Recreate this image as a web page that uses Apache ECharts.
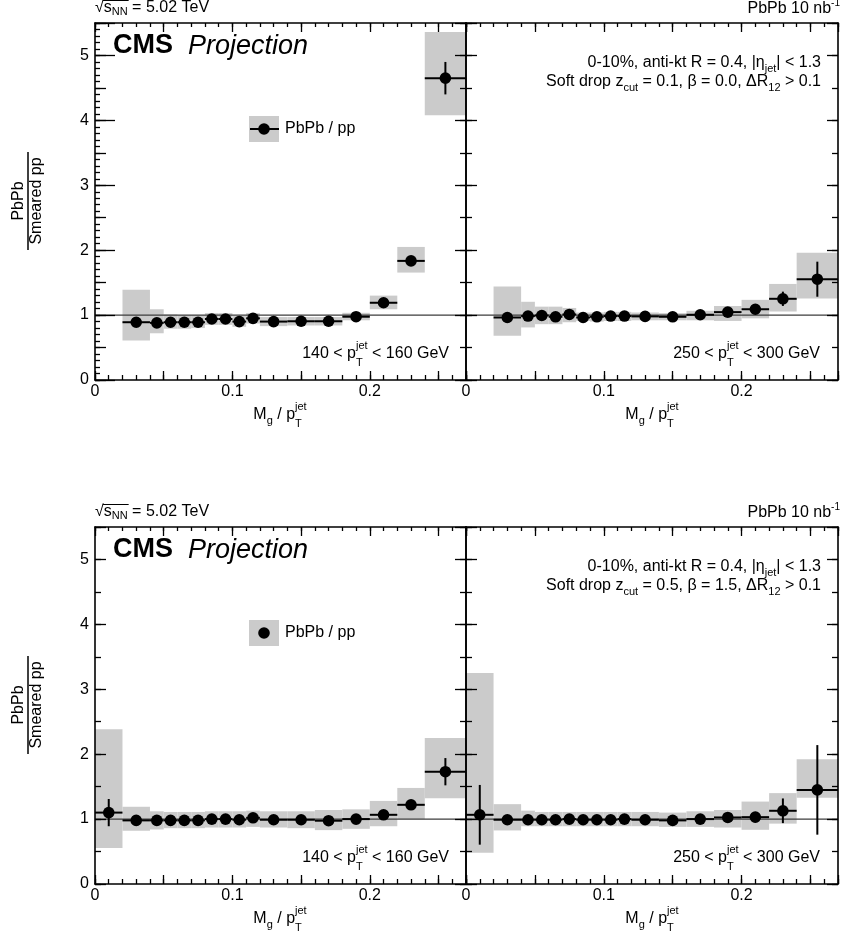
<!DOCTYPE html>
<html><head><meta charset="utf-8">
<script src="https://cdn.jsdelivr.net/npm/echarts@6/dist/echarts.min.js"></script>
<style>html,body{margin:0;padding:0;background:#fff}#c{width:841px;height:943px}</style>
</head><body><div id="c"></div>
<script>
// ---------------- data ----------------
const binEdgesTop    = [0.02,0.04,0.05,0.06,0.07,0.08,0.09,0.10,0.11,0.12,0.14,0.16,0.18,0.20,0.22,0.24,0.27];
const binEdgesBottom = [0.00,0.02,0.04,0.05,0.06,0.07,0.08,0.09,0.10,0.11,0.12,0.14,0.16,0.18,0.20,0.22,0.24,0.27];

// top-left: zcut 0.1, beta 0.0, 140 < pT < 160
const ratioTL = [0.89,0.88,0.89,0.89,0.89,0.94,0.94,0.90,0.95,0.90,0.905,0.905,0.975,1.19,1.835,4.65];
const statTL  = [0.03,0.02,0.02,0.02,0.02,0.02,0.02,0.02,0.02,0.02,0.02,0.03,0.03,0.05,0.07,0.25];
const sysLoTL = [0.61,0.72,0.79,0.79,0.80,0.85,0.85,0.82,0.87,0.83,0.84,0.84,0.92,1.09,1.655,4.08];
const sysHiTL = [1.39,1.09,1.01,1.00,1.00,1.03,1.03,0.99,1.03,0.97,0.97,0.97,1.035,1.30,2.05,5.36];

// top-right: zcut 0.1, beta 0.0, 250 < pT < 300
const ratioTR = [0.963,0.985,0.994,0.974,1.01,0.963,0.974,0.985,0.985,0.98,0.974,1.005,1.046,1.09,1.251,1.553];
const statTR  = [0.03,0.02,0.02,0.02,0.02,0.02,0.02,0.02,0.02,0.02,0.02,0.03,0.04,0.05,0.11,0.27];
const sysLoTR = [0.68,0.81,0.86,0.86,0.89,0.91,0.90,0.91,0.91,0.92,0.92,0.92,0.91,0.95,1.055,1.255];
const sysHiTR = [1.44,1.205,1.13,1.13,1.11,1.04,1.04,1.05,1.05,1.04,1.03,1.066,1.14,1.235,1.48,1.96];

// bottom-left: zcut 0.5, beta 1.5, 140 < pT < 160
const ratioBL = [1.10,0.98,0.98,0.98,0.98,0.98,1.00,1.00,0.99,1.02,0.99,0.99,0.975,1.00,1.066,1.22,1.73];
const statBL  = [0.21,0.02,0.02,0.02,0.02,0.02,0.02,0.02,0.02,0.02,0.02,0.02,0.02,0.03,0.04,0.06,0.21];
const sysLoBL = [0.554,0.82,0.84,0.86,0.86,0.86,0.87,0.87,0.87,0.88,0.87,0.86,0.83,0.85,0.89,1.00,1.32];
const sysHiBL = [2.385,1.19,1.12,1.11,1.11,1.11,1.12,1.12,1.12,1.13,1.12,1.12,1.14,1.15,1.28,1.48,2.25];

// bottom-right: zcut 0.5, beta 1.5, 250 < pT < 300
const ratioBR = [1.066,0.99,0.99,0.99,0.99,1.00,0.99,0.99,0.99,1.00,0.99,0.98,1.00,1.025,1.03,1.128,1.45];
const statBR  = [0.46,0.02,0.02,0.02,0.02,0.02,0.02,0.02,0.02,0.02,0.02,0.03,0.03,0.04,0.08,0.19,0.69];
const sysLoBR = [0.48,0.825,0.89,0.89,0.89,0.89,0.89,0.89,0.89,0.89,0.89,0.88,0.88,0.87,0.835,0.93,1.33];
const sysHiBR = [3.25,1.23,1.13,1.11,1.11,1.11,1.11,1.11,1.11,1.11,1.11,1.10,1.12,1.14,1.27,1.40,1.92];

const xTickLabels = ['0','0.1','0.2'];
const yTickLabels = ['0','1','2','3','4','5'];
const referenceValue = 1;
const X_MIN = 0, X_MAX = 0.27, Y_MIN = 0, Y_MAX = 5.5;

// ---------------- helpers ----------------
const FF = '"Liberation Sans", Arial, Helvetica, sans-serif';
const ctx = document.createElement('canvas').getContext('2d');
function tw(t, size, weight, style){ ctx.font = `${style||'normal'} ${weight||'normal'} ${size}px "Liberation Sans"`; return ctx.measureText(t).width; }
function T(text, x, y, size, o){
  o = o || {};
  return {type:'text', x, y, z:100, silent:true, rotation:o.rotation||0,
    style:{text, fill:'#000', fontSize:size, fontFamily:FF, fontWeight:o.weight||'normal', fontStyle:o.style||'normal',
      textAlign:o.align||'left', textVerticalAlign:'middle'}};
}
function rich(parts, x, y, align){
  const ms = parts.map(p => p.stack ? Math.max(tw(p.stack[0],p.size), tw(p.stack[1],p.size)) : tw(p.t,p.size,p.weight,p.style));
  const total = ms.reduce((a,b)=>a+b,0);
  const start = align==='right' ? x-total : align==='center' ? x-total/2 : x;
  let cx = start;
  const els = [];
  parts.forEach((p,i)=>{
    if (p.stack){ els.push(T(p.stack[0],cx,y+p.dy[0],p.size)); els.push(T(p.stack[1],cx,y+p.dy[1],p.size)); }
    else els.push(T(p.t,cx,y+(p.dy||0),p.size,p));
    cx += ms[i];
  });
  return {els, start, widths: ms};
}
function near(v, step){ return Math.abs(v/step - Math.round(v/step)) < 1e-6; }

const xAxis=[], yAxis=[], grid=[], series=[];
function addX(g, pos, interval, len, labels, showLine){
  xAxis.push({type:'value', gridIndex:g, position:pos, min:X_MIN, max:X_MAX, interval, z:10,
    axisLine:{show:showLine, onZero:false, lineStyle:{color:'#000', width:1.6}},
    axisTick:{show:true, inside:true, length:len, lineStyle:{color:'#000', width:1.3}},
    axisLabel:{show:labels, margin:4, fontSize:16, fontFamily:FF, color:'#000',
      formatter: v => { if (!near(v,0.1)) return ''; const s = v===0 ? '0' : (Math.round(v*10)/10).toFixed(1); return xTickLabels.includes(s) ? s : ''; }},
    splitLine:{show:false}});
  return xAxis.length-1;
}
function addY(g, pos, interval, len, labels, showLine){
  yAxis.push({type:'value', gridIndex:g, position:pos, min:Y_MIN, max:Y_MAX, interval, z:10,
    axisLine:{show:showLine, onZero:false, lineStyle:{color:'#000', width:1.6}},
    axisTick:{show:true, inside:true, length:len, lineStyle:{color:'#000', width:1.3}},
    axisLabel:{show:labels, margin:6, fontSize:16, fontFamily:FF, color:'#000',
      formatter: v => { if (!near(v,1)) return ''; const s = String(Math.round(v)); return yTickLabels.includes(s) ? s : ''; }},
    splitLine:{show:false}});
  return yAxis.length-1;
}

const panels = [
  {box:{left:95, top:23, width:371, height:357}, edges:binEdgesTop, val:ratioTL, stat:statTL, lo:sysLoTL, hi:sysHiTL, yLabels:true, leftTicks:[20,11,5]},
  {box:{left:466, top:23, width:373, height:357}, edges:binEdgesTop, val:ratioTR, stat:statTR, lo:sysLoTR, hi:sysHiTR, yLabels:false, leftTicks:[11,6]},
  {box:{left:95, top:527, width:371, height:357}, edges:binEdgesBottom, val:ratioBL, stat:statBL, lo:sysLoBL, hi:sysHiBL, yLabels:true, leftTicks:[11,6]},
  {box:{left:466, top:527, width:373, height:357}, edges:binEdgesBottom, val:ratioBR, stat:statBR, lo:sysLoBR, hi:sysHiBR, yLabels:false, leftTicks:[11,6]}
];

panels.forEach((p,g)=>{
  grid.push(Object.assign({show:false, containLabel:false}, p.box));
  const xi = addX(g,'bottom',0.05,9,true,true);
  addX(g,'bottom',0.01,5,false,false);
  addX(g,'top',0.05,9,false,true);
  addX(g,'top',0.01,4,false,false);
  const yi = addY(g,'left',1,p.leftTicks[0],p.yLabels,true);
  addY(g,'left',0.5,p.leftTicks[1],false,false);
  if (p.leftTicks[2]) addY(g,'left',0.1,p.leftTicks[2],false,false);
  addY(g,'right',1,11,false,true);
  addY(g,'right',0.5,6,false,false);

  const n = p.val.length;
  const boxData=[], ptData=[];
  for (let i=0;i<n;i++){
    const xl=p.edges[i], xh=p.edges[i+1];
    boxData.push([xl,xh,p.lo[i],p.hi[i]]);
    ptData.push([(xl+xh)/2, p.val[i], xl, xh, p.stat[i]]);
  }
  series.push({type:'custom', xAxisIndex:xi, yAxisIndex:yi, z:1, clip:true, silent:true, data:boxData,
    renderItem:(params,api)=>{
      const a = api.coord([api.value(0), api.value(3)]), b = api.coord([api.value(1), api.value(2)]);
      return {type:'rect', shape:{x:a[0], y:a[1], width:b[0]-a[0], height:b[1]-a[1]}, style:{fill:'#cbcbcb'}};
    }});
  series.push({type:'line', xAxisIndex:xi, yAxisIndex:yi, z:2, silent:true, symbol:'none',
    data:[[X_MIN,referenceValue],[X_MAX,referenceValue]], lineStyle:{color:'#3c3c3c', width:1.2}});
  series.push({type:'custom', xAxisIndex:xi, yAxisIndex:yi, z:3, clip:true, silent:true, data:ptData,
    renderItem:(params,api)=>{
      const x=api.value(0), y=api.value(1), e=api.value(4);
      const c=api.coord([x,y]), l=api.coord([api.value(2),y]), r=api.coord([api.value(3),y]);
      const t=api.coord([x,y+e]), b=api.coord([x,y-e]);
      return {type:'group', children:[
        {type:'line', shape:{x1:l[0],y1:c[1],x2:r[0],y2:c[1]}, style:{stroke:'#000', lineWidth:2}},
        {type:'line', shape:{x1:c[0],y1:t[1],x2:c[0],y2:b[1]}, style:{stroke:'#000', lineWidth:2}},
        {type:'circle', shape:{cx:c[0],cy:c[1],r:5.8}, style:{fill:'#000'}}
      ]};
    }});
});

// ---------------- text / decorations ----------------
const graphic = [];
function add(els){ els.forEach(e=>graphic.push(e)); }
const rows = [
  {dy:0, zcut:'0.1', beta:'0.0', legendLine:true},
  {dy:504, zcut:'0.5', beta:'1.5', legendLine:false}
];
rows.forEach(r=>{
  const d = r.dy;
  // sqrt(s_NN)
  const sq = rich([{t:'√',size:16},{t:'s',size:16},{t:'NN',size:11,dy:4},{t:' = 5.02 TeV',size:16}], 95, 8+d, 'left');
  add(sq.els);
  const ox = sq.start + sq.widths[0];
  graphic.push({type:'line', z:100, silent:true, shape:{x1:ox-1, y1:0.5+d, x2:ox+sq.widths[1]+sq.widths[2]+1, y2:0.5+d}, style:{stroke:'#000', lineWidth:1}});
  // luminosity
  add(rich([{t:'PbPb 10 nb',size:16},{t:'-1',size:10,dy:-6}], 840, 9+d, 'right').els);
  // CMS Projection
  graphic.push(T('CMS', 113, 46+d, 27, {weight:'bold'}));
  graphic.push(T('Projection', 188, 46+d, 27, {style:'italic'}));
  // legend
  graphic.push({type:'rect', z:90, silent:true, shape:{x:249, y:116+d, width:30, height:26}, style:{fill:'#cbcbcb'}});
  if (r.legendLine) graphic.push({type:'line', z:95, silent:true, shape:{x1:250, y1:129+d, x2:279, y2:129+d}, style:{stroke:'#000', lineWidth:2}});
  graphic.push({type:'circle', z:96, silent:true, shape:{cx:264, cy:129+d, r:5.8}, style:{fill:'#000'}});
  graphic.push(T('PbPb / pp', 285, 129+d, 16));
  // description
  add(rich([{t:'0-10%, anti-kt R = 0.4, |η',size:16},{t:'jet',size:11,dy:6},{t:'| < 1.3',size:16}], 821, 63+d, 'right').els);
  add(rich([{t:'Soft drop z',size:16},{t:'cut',size:11,dy:6},{t:' = '+r.zcut+', β = '+r.beta+', ΔR',size:16},{t:'12',size:11,dy:6},{t:' > 0.1',size:16}], 821, 82+d, 'right').els);
  // pT ranges
  add(rich([{t:'140 < p',size:16},{stack:['jet','T'],size:11,dy:[-8,9]},{t:' < 160 GeV',size:16}], 449, 354+d, 'right').els);
  add(rich([{t:'250 < p',size:16},{stack:['jet','T'],size:11,dy:[-8,9]},{t:' < 300 GeV',size:16}], 820, 354+d, 'right').els);
  // x titles
  [280, 652].forEach(cx=>{
    add(rich([{t:'M',size:16},{t:'g',size:11,dy:6},{t:' / p',size:16},{stack:['jet','T'],size:11,dy:[-8,9]}], cx, 415+d, 'center').els);
  });
  // y title (fraction)
  graphic.push(T('PbPb', 19, 201+d, 16, {rotation:Math.PI/2, align:'center'}));
  graphic.push(T('Smeared pp', 37, 201+d, 16, {rotation:Math.PI/2, align:'center'}));
  graphic.push({type:'line', z:100, silent:true, shape:{x1:28, y1:152+d, x2:28, y2:250+d}, style:{stroke:'#000', lineWidth:1.5}});
});

const chart = echarts.init(document.getElementById('c'), null, {renderer:'canvas'});
chart.setOption({animation:false, backgroundColor:'#fff', grid, xAxis, yAxis, series, graphic:{elements:graphic}});
</script></body></html>
